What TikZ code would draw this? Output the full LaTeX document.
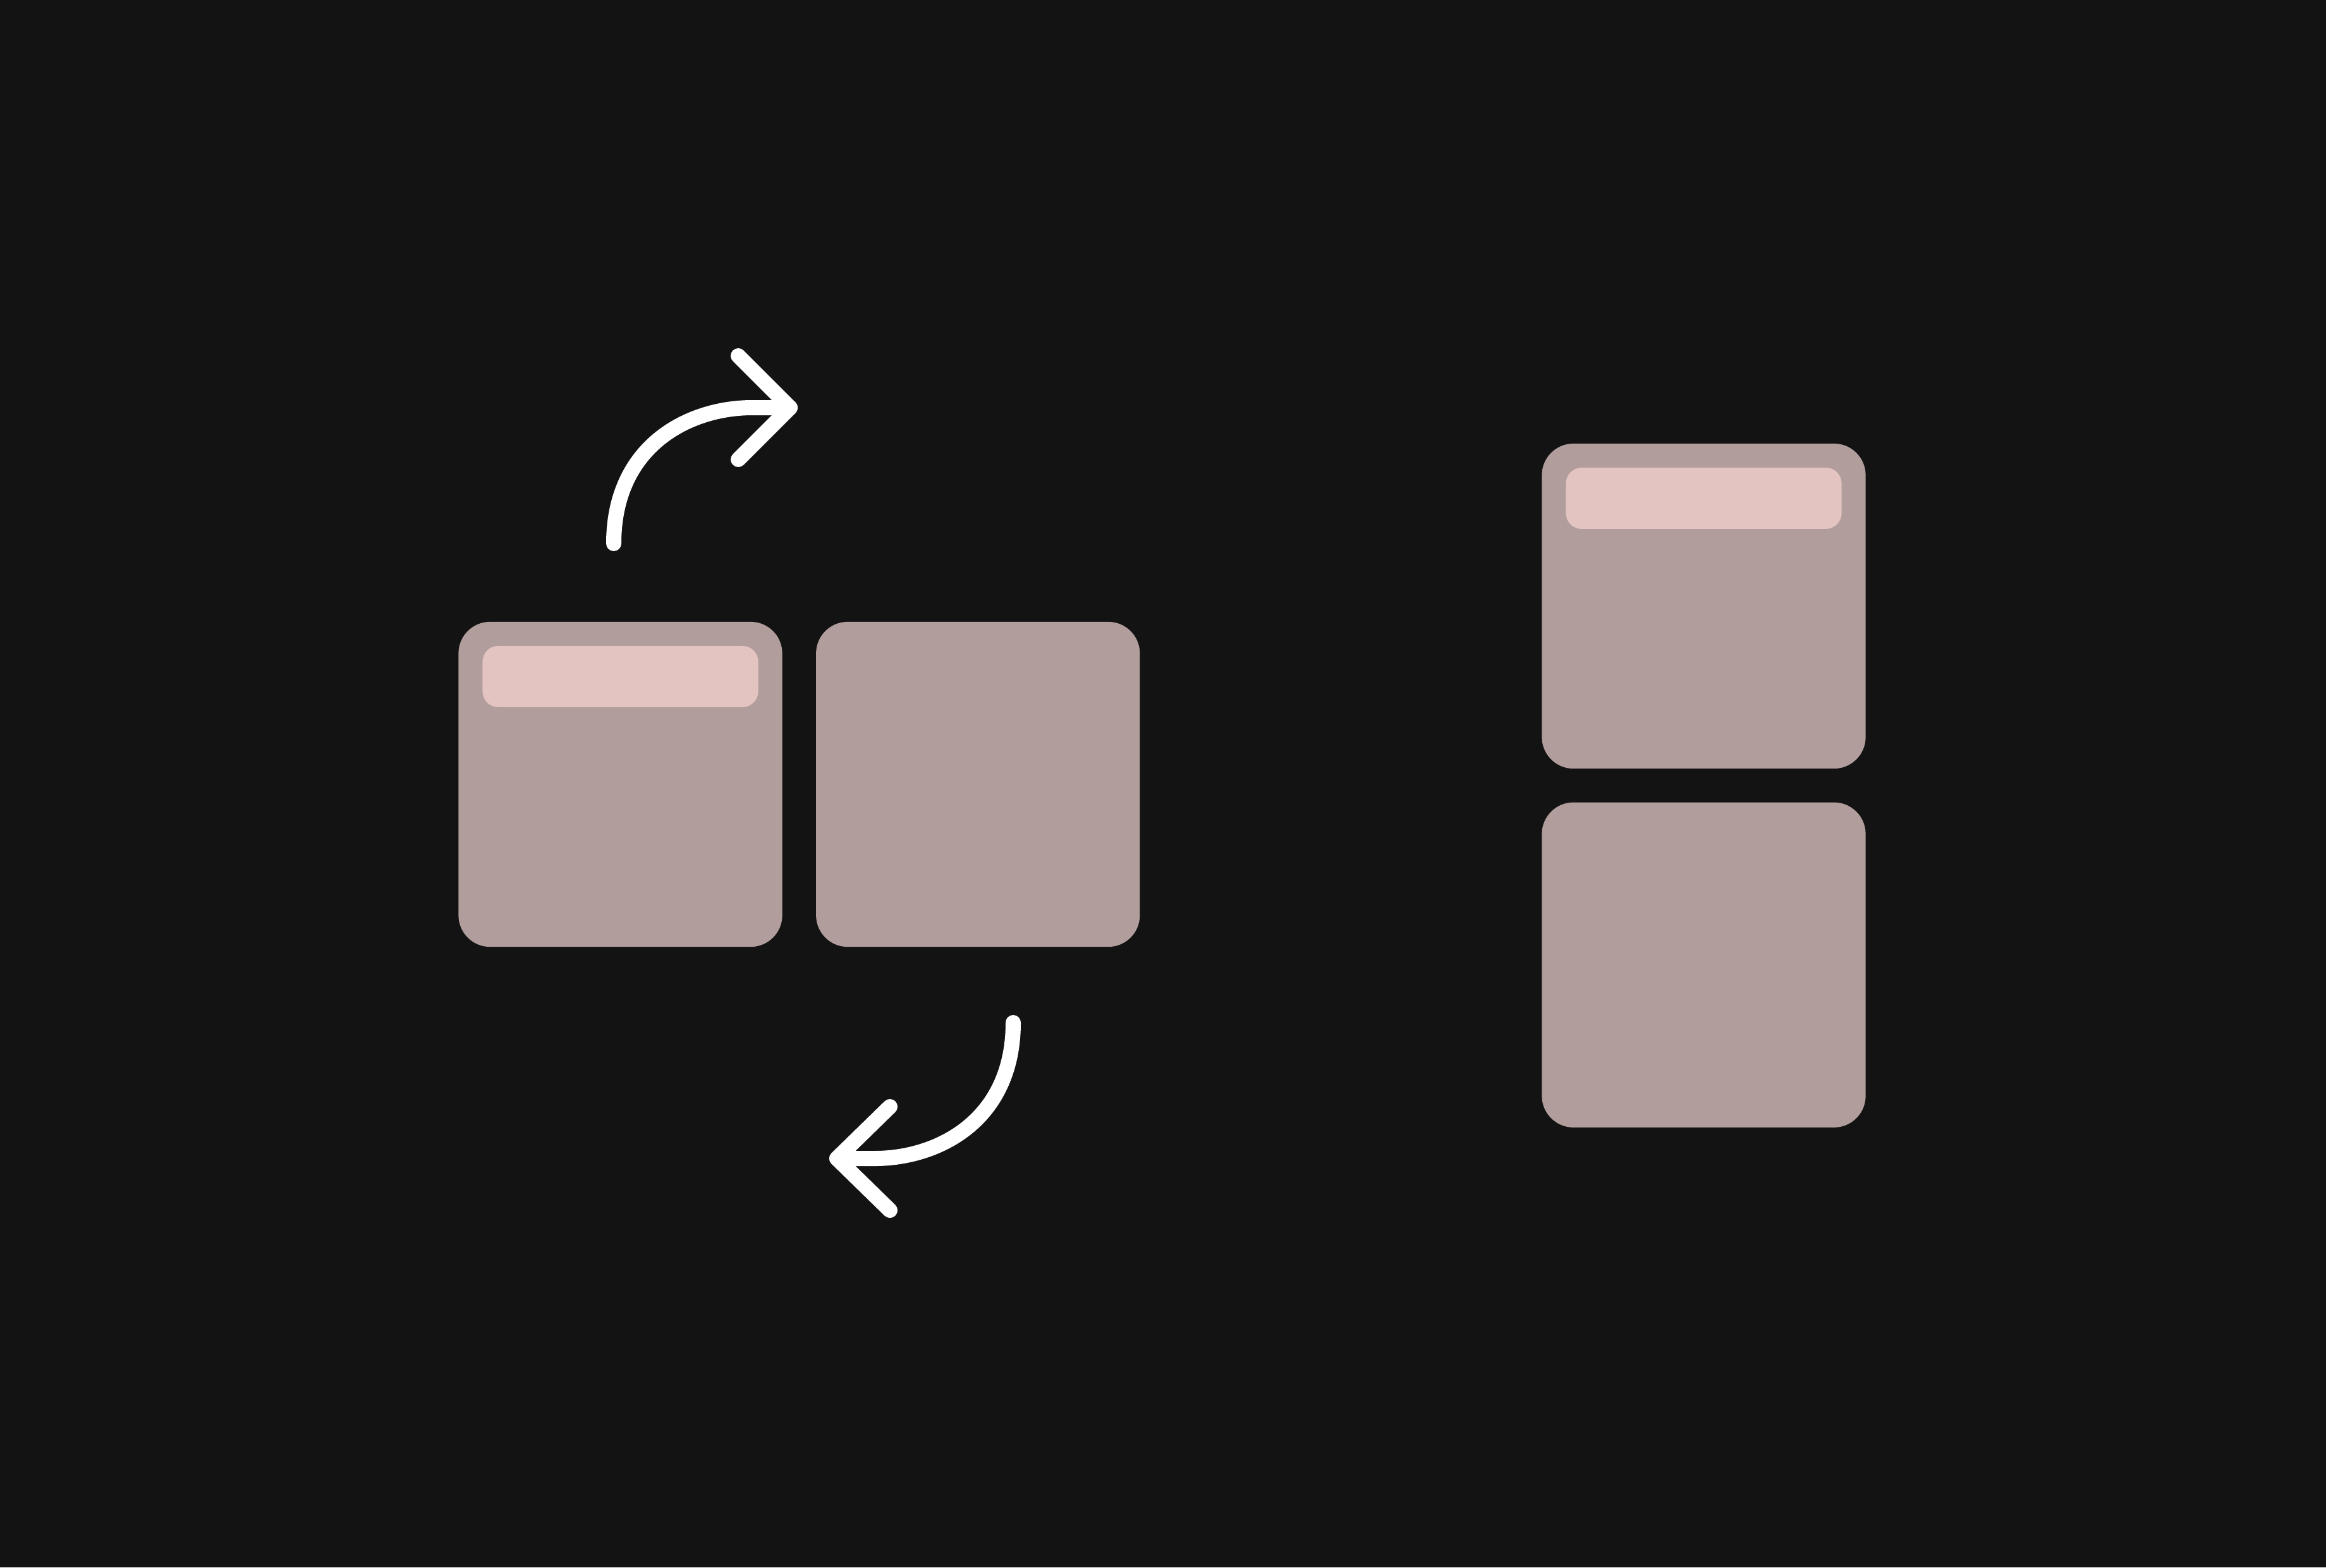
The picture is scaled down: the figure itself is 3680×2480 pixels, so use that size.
\documentclass[tikz,border=0pt]{standalone}
\usepackage{tikz}
\usetikzlibrary{positioning}

\definecolor{bgdark}{HTML}{131313}
\definecolor{cardgray}{HTML}{B19D9B}
\definecolor{barpink}{HTML}{E3C4C1}

\begin{document}
\begin{tikzpicture}[x=0.01cm,y=-0.01cm,node distance=0.52cm]
\tikzstyle{card} = [rectangle,draw=none,fill=cardgray,rounded corners=0.5cm,minimum width=5.12cm,minimum height=5.14cm,inner sep=0pt]
\tikzstyle{bar} = [rectangle,draw=none,fill=barpink,rounded corners=0.25cm,minimum width=4.36cm,minimum height=0.97cm,inner sep=0pt]
\tikzstyle{turn} = [draw=white,line width=0.24cm,line cap=round,line join=round]
    \useasboundingbox (0,0) rectangle (3680,2480);
    \fill[bgdark] (0,0) rectangle (3680,2480);

    % side by side
    \node[card] (first) at (981.5,1241) {};
    \node[card] (second) [right =of first] {};
    \node[bar] (firstbar) [below =0.38cm of first.north] {};

    % stacked
    \node[card] (upper) at (2695.5,959) {};
    \node[card] (lower) [below =of upper] {};
    \node[bar] (upperbar) [below =0.38cm of upper.north] {};

    % rotate arrows
    \coordinate (cw start) at (971,860);
    \coordinate (cw tip) at (1250,645);
    \coordinate (ccw start) at (1603,1618);
    \coordinate (ccw tip) at (1324,1833);

    \draw[turn] (cw start) .. controls (971,705) and (1090,645) .. (1190,645) -- (cw tip);
    \draw[turn] (cw tip) ++(-82,-82) -- (cw tip) -- ++(-82,82);
    \draw[turn] (ccw start) .. controls (1603,1773) and (1484,1833) .. (1384,1833) -- (ccw tip);
    \draw[turn] (ccw tip) ++(84,-82) -- (ccw tip) -- ++(84,82);

\end{tikzpicture}
\end{document}
